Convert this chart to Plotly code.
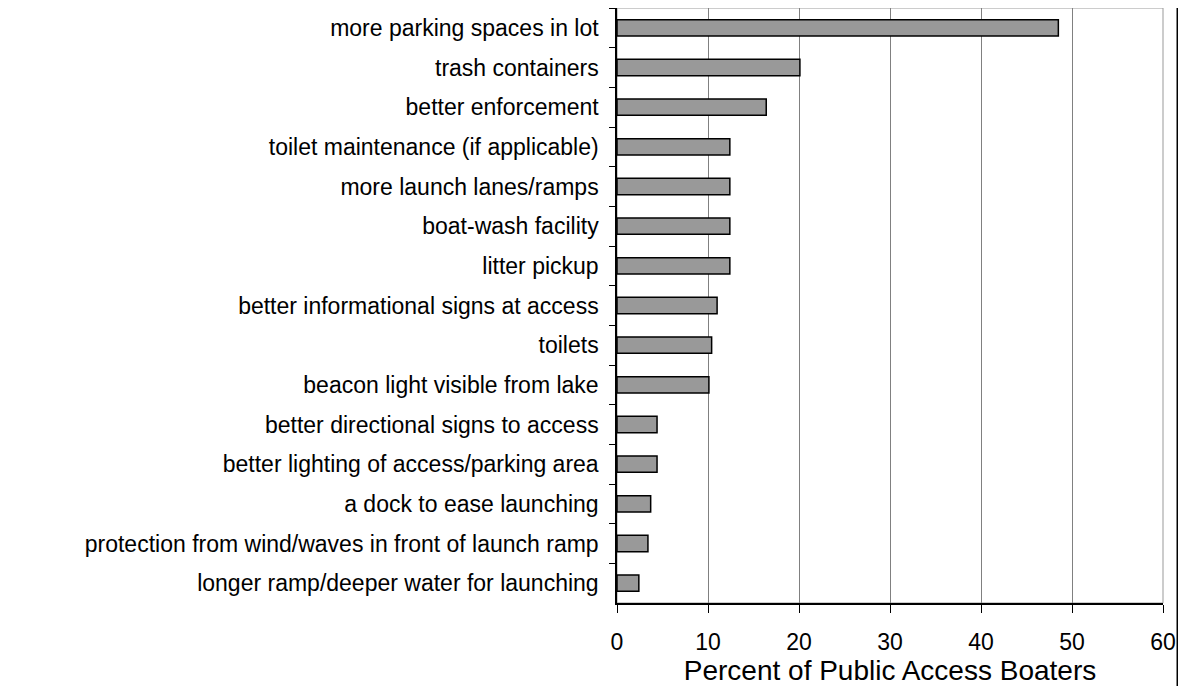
import plotly.graph_objects as go

# survey items, top to bottom as shown
items = [
    "more parking spaces in lot",
    "trash containers",
    "better enforcement",
    "toilet maintenance (if applicable)",
    "more launch lanes/ramps",
    "boat-wash facility",
    "litter pickup",
    "better informational signs at access",
    "toilets",
    "beacon light visible from lake",
    "better directional signs to access",
    "better lighting of access/parking area",
    "a dock to ease launching",
    "protection from wind/waves in front of launch ramp",
    "longer ramp/deeper water for launching",
]
percent = [48.5, 20.1, 16.4, 12.4, 12.4, 12.4, 12.4, 11.0, 10.4, 10.1, 4.4, 4.4, 3.7, 3.4, 2.4]

x_ticks = [0, 10, 20, 30, 40, 50, 60]

font = "Liberation Sans, Arial, sans-serif"

fig = go.Figure()
fig.add_trace(go.Bar(
    x=percent, y=items, orientation="h",
    width=0.41,
    marker=dict(color="#999999", line=dict(color="black", width=1.5)),
))

# light gray plot frame (top/right), black axes drawn on top
fig.add_shape(type="rect", xref="paper", yref="paper", x0=0, x1=1, y0=0, y1=1,
              line=dict(color="#999999", width=1), layer="below")
# black page border on the far right
fig.add_shape(type="line", xref="paper", yref="paper", x0=1.0275, x1=1.0275,
              y0=-0.16, y1=1.02, line=dict(color="black", width=3))

# page body has an 8px margin on each side, so the figure is shrunk to fit the window
fig.update_layout(
    width=1170, height=678,
    margin=dict(l=609, r=15, t=0, b=83),
    paper_bgcolor="white", plot_bgcolor="white",
    showlegend=False,
    font=dict(family=font, size=23, color="black"),
    xaxis=dict(
        range=[0, 60], tickvals=x_ticks, ticks="outside", ticklen=8, tickcolor="black",
        ticklabelstandoff=10, automargin=False,
        showline=True, linecolor="black", linewidth=1.5,
        showgrid=True, gridcolor="#808080", gridwidth=1,
        zeroline=False,
        title=dict(text="Percent of Public Access Boaters", standoff=16),
        tickfont=dict(size=23),
    ),
    yaxis=dict(
        autorange="reversed", type="category",
        ticks="outside", ticklen=6, tickcolor="black", tickson="boundaries",
        ticklabelstandoff=12, automargin=False,
        showline=True, linecolor="black", linewidth=1.5,
        showgrid=False,
        tickfont=dict(size=23),
    ),
)

fig.write_html("out.html")
